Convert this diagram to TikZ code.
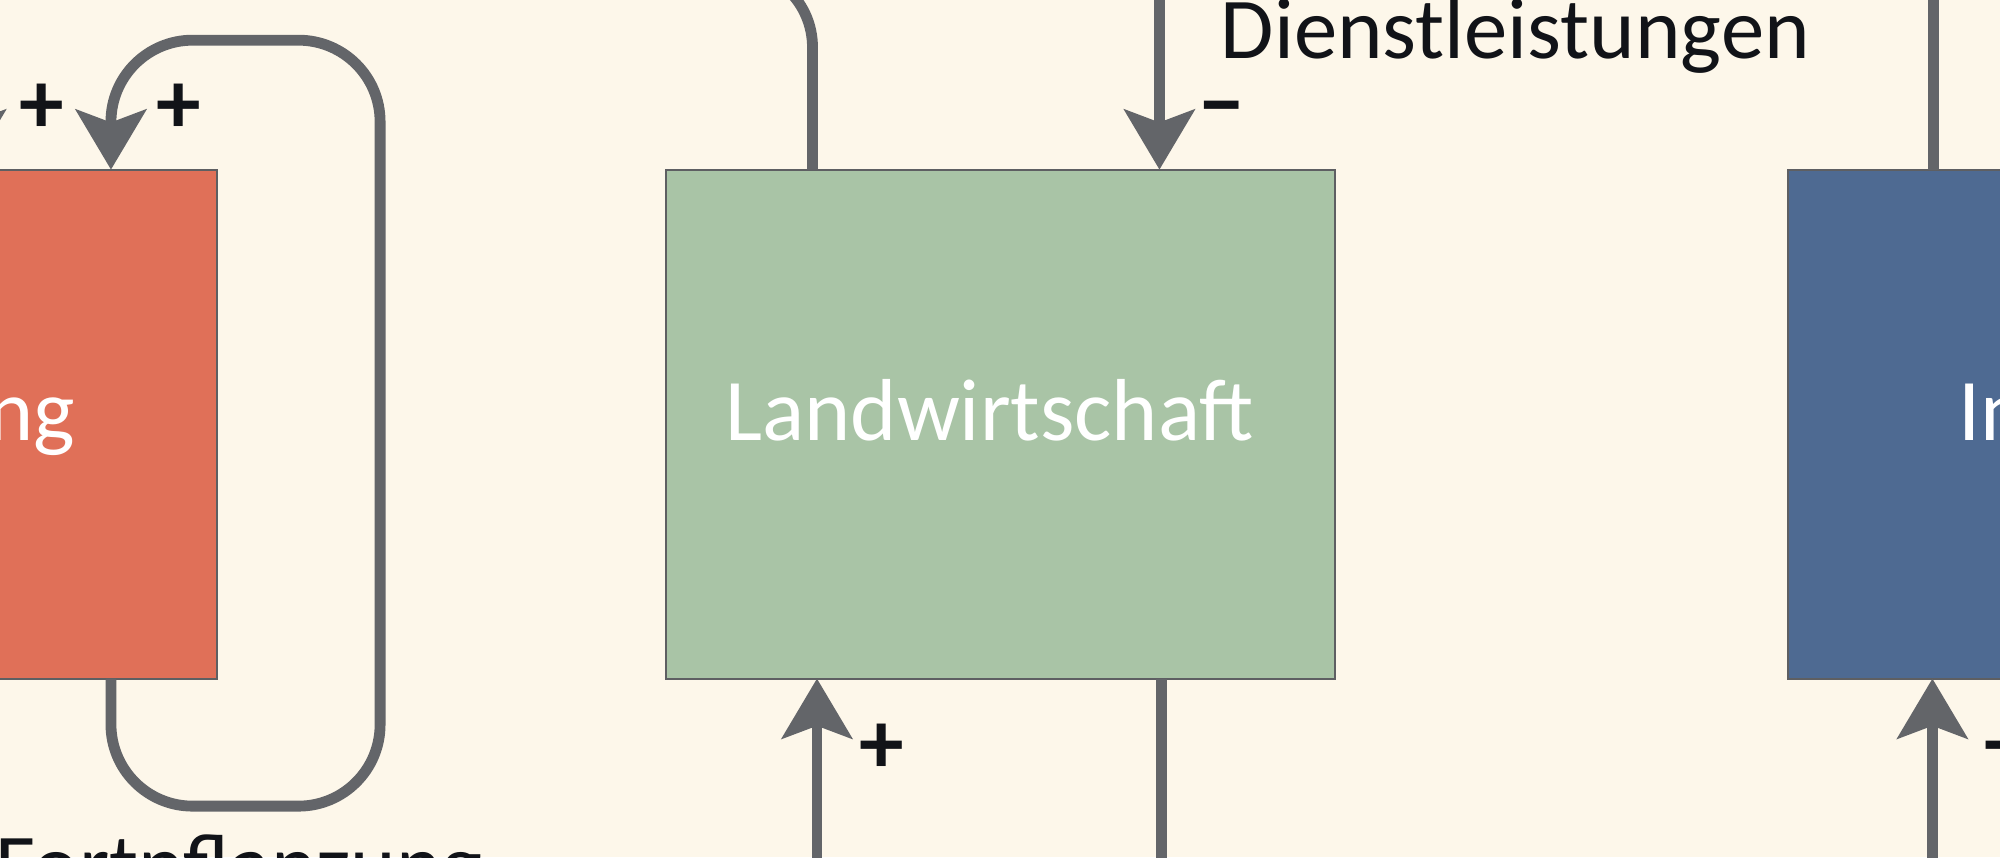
\documentclass[tikz,border=0pt]{standalone}
\usepackage{fontspec}
\setmainfont{Carlito}
\usetikzlibrary{arrows.meta}
\definecolor{bg}{HTML}{FDF7EA}
\definecolor{redc}{HTML}{E07058}
\definecolor{greenc}{HTML}{A9C4A6}
\definecolor{bluec}{HTML}{4E6A92}
\definecolor{linec}{HTML}{636569}
\definecolor{boxline}{HTML}{5E5F62}
\definecolor{txt}{HTML}{111318}
\begin{document}
\begin{tikzpicture}[x=1pt,y=-1pt,
  box/.style={draw=boxline, line width=1.6pt, minimum width=525pt, minimum height=399pt, inner sep=0pt, outer sep=0pt},
  conn/.style={draw=linec, line width=8.5pt},
  tip/.style={-{Stealth[length=47pt,width=55pt,inset=10pt]}},
  lab/.style={font=\fontsize{68}{80}\selectfont, text=txt, inner sep=0pt},
  boxtext/.style={font=\fontsize{69}{80}\selectfont, text=white, inner sep=0pt},
  sign/.style={font=\fontsize{70}{80}\selectfont\bfseries, text=txt, inner sep=0pt}]
\useasboundingbox (0,0) rectangle (1568,672);
\fill[bg] (0,0) rectangle (1568,672);
\clip (0,0) rectangle (1568,672);
% boxes
\node[box, fill=redc] (bev) at (-92.5,332.5) {};
\node[box, fill=greenc] (lw) at (784.5,332.5) {};
\node[box, fill=bluec] (ind) at (1664.5,332.5) {};
% connectors
\draw[conn, tip, rounded corners=64pt] ([xshift=179.5pt]bev.south) -- (87,632) -- (298,632) -- (298,31.5) -- (87,31.5) [sharp corners] -- ([xshift=179.5pt]bev.north);
\draw[conn, tip] (-23,-20) -- ([xshift=69.5pt]bev.north);
\draw[conn, rounded corners=62pt] ([xshift=-147.5pt]lw.north) -- (637,-25) -- (450,-25);
\draw[conn, tip] (909,-10) -- ([xshift=124.5pt]lw.north);
\draw[conn, tip] (640.5,690) -- ([xshift=-144pt]lw.south);
\draw[conn] ([xshift=126pt]lw.south) -- (910.5,690);
\draw[conn] ([xshift=-148.5pt]ind.north) -- (1516,-10);
\draw[conn, tip] (1515,690) -- ([xshift=-149.5pt]ind.south);
% texts
\node[boxtext, anchor=base east] (tbev) at (59,345) {Bevölkerung};
\node[boxtext, anchor=base] (tlw) at (776,345) {Landwirtschaft};
\node[boxtext, anchor=base west] (tind) at (1535,345) {Industrie};
\node[lab, anchor=base west] (tdl) at (957,46) {Dienstleistungen};
\node[lab, anchor=base west] (tfp) at (-4,701) {Fortpflanzung};
% signs
\node[sign] (s1) at (33,85) {+};
\node[sign] (s2) at (140,85) {+};
\node[sign] (s3) at (958,92) {−};
\node[sign] (s4) at (691,587) {+};
\node[sign] (s5) at (1573,587) {+};
\end{tikzpicture}
\end{document}
